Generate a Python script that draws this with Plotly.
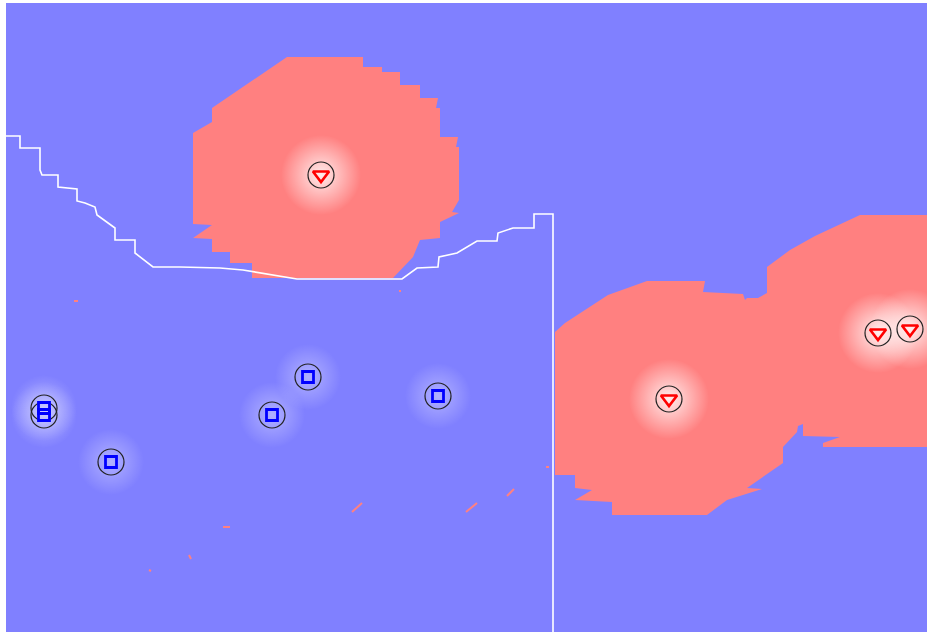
import plotly.graph_objects as go

# ---- data (feature-space units) ----
blue_x = [44, 44, 111, 308, 272, 438]
blue_y = [408, 415, 462, 377, 415, 396]
red_x = [321, 669, 878, 910]
red_y = [175, 399, 333, 329]

# red decision region around the upper point
top_region_x = [287, 363, 363, 382, 382, 400, 400, 420, 420, 438, 436, 440, 440, 458, 456, 459,
                459, 452, 459, 440, 440, 420, 413, 393, 252, 252, 230, 230, 212, 212, 193,
                212, 193, 193, 212, 212]
top_region_y = [57, 57, 67, 67, 72, 72, 85, 85, 98, 98, 108, 108, 137, 137, 147, 147,
                200, 212, 213, 222, 238, 240, 257, 278, 278, 263, 263, 252, 252, 239, 238,
                225, 224, 133, 122, 108]

# red decision region around the right-hand points
right_region_x = [555, 565, 608, 647, 705, 703, 743, 745, 747, 758, 767, 767, 790, 815, 845, 860,
                  927, 927, 823, 823, 840, 803, 803, 798, 797, 783, 783, 770, 747, 762, 727,
                  707, 612, 612, 575, 592, 575, 575, 555]
right_region_y = [332, 323, 295, 281, 281, 292, 294, 300, 298, 298, 293, 267, 250, 236, 222, 215,
                  215, 447, 447, 443, 437, 436, 424, 426, 432, 447, 463, 472, 488, 489, 500,
                  515, 515, 502, 500, 490, 488, 475, 475]

# small stray red cells
speck_x = [352, 362, None, 466, 477, None, 507, 514, None, 223, 230, None, 189, 191, None,
           149, 151, None, 74, 78, None, 399, 401, None, 546, 549]
speck_y = [512, 503, None, 512, 503, None, 496, 489, None, 527, 527, None, 555, 559, None,
           570, 571, None, 301, 301, None, 291, 291, None, 467, 467]

# white boundary contour
boundary_x = [6, 20, 20, 40, 40, 42, 58, 58, 77, 77, 85, 95, 97, 115, 115, 135, 135, 153,
              180, 220, 243, 297, 402, 417, 438, 439, 457, 477, 497, 498, 513, 534, 534,
              553, 553]
boundary_y = [136, 136, 148, 148, 170, 175, 175, 187, 189, 201, 203, 207, 215, 228, 240, 240,
              253, 267, 267, 268, 270, 279, 279, 268, 267, 257, 253, 241, 241, 233, 228, 228,
              214, 214, 632]

BG = "#8080FF"
REGION = "#FF8080"

fig = go.Figure()

fig.add_trace(go.Scatter(x=top_region_x, y=top_region_y, fill="toself", fillcolor=REGION,
                         mode="lines", line=dict(width=0, color=REGION), hoverinfo="skip"))
fig.add_trace(go.Scatter(x=right_region_x, y=right_region_y, fill="toself", fillcolor=REGION,
                         mode="lines", line=dict(width=0, color=REGION), hoverinfo="skip"))
fig.add_trace(go.Scatter(x=speck_x, y=speck_y, mode="lines",
                         line=dict(width=2, color=REGION), hoverinfo="skip"))

# soft glow around each sample
fig.add_trace(go.Scatter(x=red_x, y=red_y, mode="markers", hoverinfo="skip",
                         marker=dict(size=80, color="rgba(255,255,255,0)", line=dict(width=0),
                                     gradient=dict(type="radial", color="rgba(255,255,255,0.85)"))))
fig.add_trace(go.Scatter(x=blue_x, y=blue_y, mode="markers", hoverinfo="skip",
                         marker=dict(size=66, color="rgba(255,255,255,0)", line=dict(width=0),
                                     gradient=dict(type="radial", color="rgba(255,255,255,0.38)"))))

fig.add_trace(go.Scatter(x=boundary_x, y=boundary_y, mode="lines",
                         line=dict(width=1.6, color="white"), hoverinfo="skip"))

# support-vector circles
fig.add_trace(go.Scatter(x=blue_x + red_x, y=blue_y + red_y, mode="markers",
                         marker=dict(symbol="circle-open", size=26, color="#222222",
                                     line=dict(width=1.2, color="#222222"))))

fig.add_trace(go.Scatter(x=blue_x, y=blue_y, mode="markers", name="class -1",
                         marker=dict(symbol="square-open", size=11, color="#0000FF",
                                     line=dict(width=2.8, color="#0000FF"))))
fig.add_trace(go.Scatter(x=red_x, y=red_y, mode="markers", name="class +1",
                         marker=dict(symbol="triangle-down-open", size=14, color="#FF0000",
                                     line=dict(width=2.6, color="#FF0000"))))

fig.update_layout(
    width=927, height=632,
    margin=dict(l=6, r=0, t=3, b=0),
    paper_bgcolor="white", plot_bgcolor=BG,
    showlegend=False,
    xaxis=dict(range=[6, 927], visible=False, showgrid=False, zeroline=False),
    yaxis=dict(range=[632, 3], visible=False, showgrid=False, zeroline=False),
)

fig.write_html("out.html", config={"displayModeBar": False},
               post_script="document.body.style.margin='0';")
